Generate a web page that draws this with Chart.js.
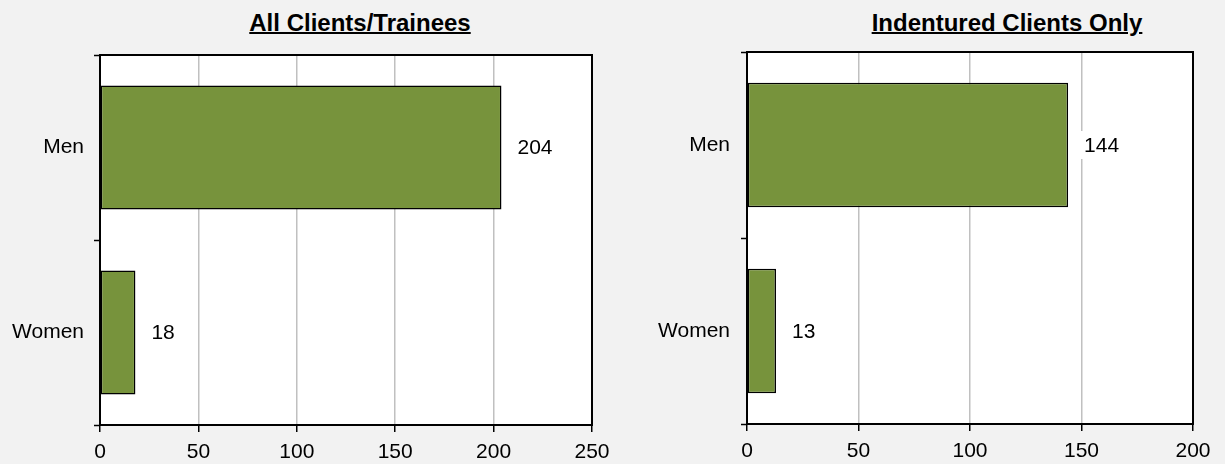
<!DOCTYPE html>
<html lang="en">
<head>
  <meta charset="UTF-8">
  <title>Clients by Gender</title>
  <script src="https://cdn.jsdelivr.net/npm/chart.js"></script>
  <style>
    body {
      margin: 0;
      width: 1225px;
      height: 464px;
      overflow: hidden;
      position: relative;
      background: #f2f2f2;
      font-family: "Liberation Sans", Arial, sans-serif;
    }
    .title {
      position: absolute;
      top: 9px;
      font-size: 24px;
      font-weight: bold;
      text-decoration: underline;
      text-decoration-thickness: 2px;
      white-space: nowrap;
      transform: translateX(-50%);
    }
    .box {
      position: absolute;
      top: 0;
      height: 464px;
    }
  </style>
</head>
<body>
  <div class="title" style="left:360px">All Clients/Trainees</div>
  <div class="title" style="left:1007px">Indentured Clients Only</div>

  <div class="box" style="left:0;width:612px"><canvas id="all-chart"></canvas></div>
  <div class="box" style="left:612px;width:613px"><canvas id="ind-chart"></canvas></div>

  <script>
    // data
    const categories = ['Men', 'Women'];
    const allClients = [204, 18];
    const indentured = [144, 13];
    const allMax = 250;
    const indMax = 200;
    const tickStep = 50;

    const barColor = '#77933c';
    const fontFamily = '"Liberation Sans", Arial, sans-serif';

    // white plot area
    const plotBg = {
      id: 'plotBg',
      beforeDraw(chart) {
        const { ctx, chartArea: a } = chart;
        ctx.save();
        ctx.fillStyle = '#fff';
        ctx.fillRect(a.left, a.top, a.right - a.left, a.bottom - a.top);
        ctx.restore();
      }
    };

    // black frame round the plot area
    const framePlugin = {
      id: 'frame',
      afterDatasetsDraw(chart) {
        const { ctx, chartArea: a } = chart;
        ctx.save();
        ctx.strokeStyle = '#000';
        ctx.lineWidth = 2;
        ctx.strokeRect(a.left, a.top, a.right - a.left, a.bottom - a.top);
        ctx.restore();
      }
    };

    // value labels on a white box right of each bar
    const valueLabels = {
      id: 'valueLabels',
      afterDraw(chart) {
        const { ctx } = chart;
        const meta = chart.getDatasetMeta(0);
        const values = chart.data.datasets[0].data;
        ctx.save();
        ctx.font = '21px ' + fontFamily;
        ctx.textAlign = 'left';
        ctx.textBaseline = 'middle';
        meta.data.forEach((bar, i) => {
          const text = String(values[i]);
          const x = bar.x + 16;
          const w = ctx.measureText(text).width;
          ctx.fillStyle = '#fff';
          ctx.fillRect(x - 6, bar.y - 14, w + 12, 28);
          ctx.fillStyle = '#000';
          ctx.fillText(text, x, bar.y + 1);
        });
        ctx.restore();
      }
    };

    function makeChart(id, values, max, yWidth, xHeight, padTop, padRight, labelPad) {
      const ctx = document.getElementById(id).getContext('2d');
      return new Chart(ctx, {
        type: 'bar',
        data: {
          labels: categories,
          datasets: [{
            data: values,
            backgroundColor: barColor,
            borderColor: '#000',
            borderWidth: 1.5,
            borderSkipped: false,
            categoryPercentage: 1,
            barPercentage: 0.67
          }]
        },
        options: {
          indexAxis: 'y',
          responsive: true,
          maintainAspectRatio: false,
          animation: false,
          events: [],
          layout: { padding: { top: padTop, right: padRight, left: 0, bottom: 0 } },
          plugins: {
            legend: { display: false },
            tooltip: { enabled: false }
          },
          scales: {
            x: {
              min: 0,
              max: max,
              ticks: {
                stepSize: tickStep,
                color: '#000',
                padding: 8,
                font: { family: fontFamily, size: 21 }
              },
              grid: {
                color: '#c0c0c0',
                lineWidth: 1.5,
                tickColor: '#000',
                tickLength: 7,
                tickWidth: 1.5
              },
              border: { color: '#000', width: 2 },
              afterFit(scale) {
                scale.height = xHeight;
                scale.paddingLeft = 0;
                scale.paddingRight = 0;
              }
            },
            y: {
              ticks: {
                color: '#000',
                padding: labelPad,
                font: { family: fontFamily, size: 21 }
              },
              grid: {
                offset: true,
                drawOnChartArea: false,
                tickColor: '#000',
                tickLength: 6,
                tickWidth: 1.5
              },
              border: { color: '#000', width: 2 },
              afterFit(scale) {
                scale.width = yWidth;
                scale.paddingTop = 0;
                scale.paddingBottom = 0;
              }
            }
          }
        },
        plugins: [plotBg, framePlugin, valueLabels]
      });
    }

    makeChart('all-chart', allClients, allMax, 100, 39, 55, 20, 10);
    makeChart('ind-chart', indentured, indMax, 135, 40, 52, 32, 11);
  </script>
</body>
</html>
